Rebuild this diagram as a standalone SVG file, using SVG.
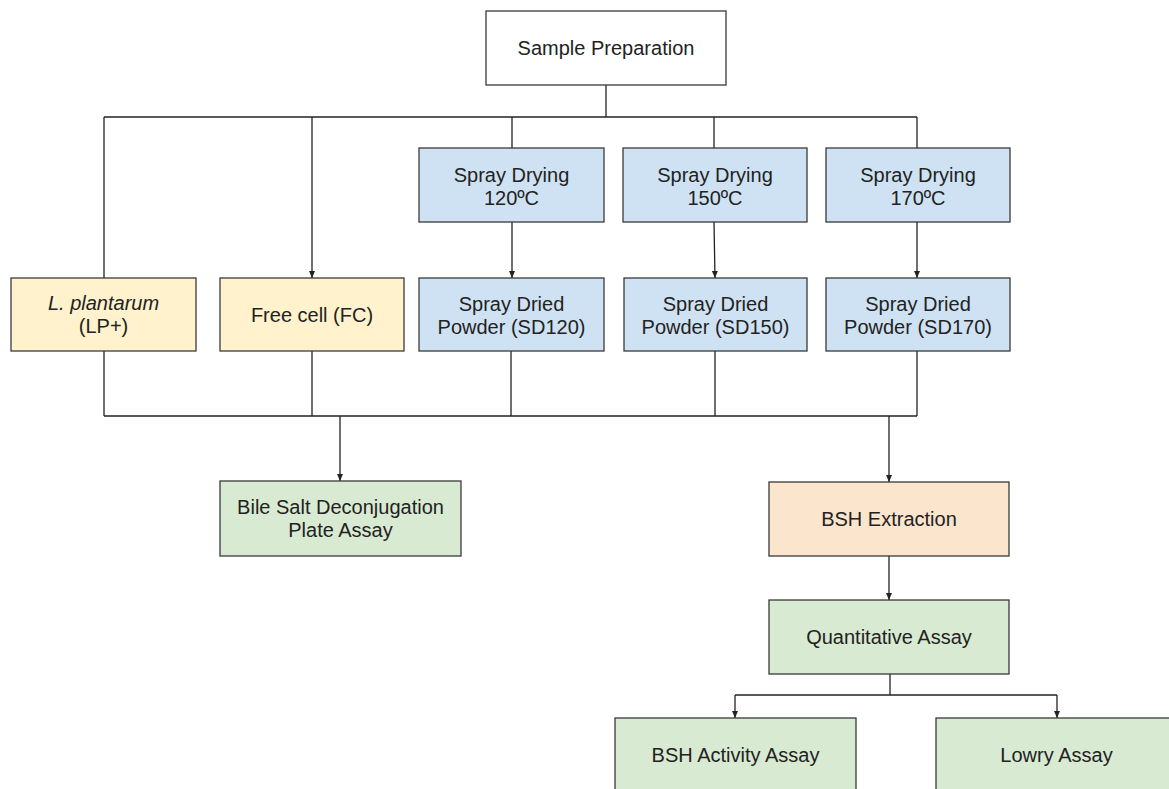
<svg xmlns="http://www.w3.org/2000/svg" width="1169" height="789" viewBox="0 0 1169 789">
<style>
  .box { stroke: #3a3a3a; stroke-width: 1.3; }
  .white { fill: #ffffff; }
  .yellow { fill: #fff2cc; }
  .blue { fill: #cfe2f3; }
  .green { fill: #d9ead3; }
  .orange { fill: #fce5cd; }
  text { font-family: "Liberation Sans", Arial, sans-serif; font-size: 20px; fill: #222222; text-anchor: middle; }
  .it { font-style: italic; }
  .conn line, .conn path { stroke: #222222; stroke-width: 1.3; fill: none; }
</style>
<defs>
  <marker id="arr" markerWidth="8" markerHeight="8" refX="7" refY="4" orient="auto" markerUnits="userSpaceOnUse">
    <path d="M0,1 L7,4 L0,7 z" fill="#222222"/>
  </marker>
</defs>
<rect width="1169" height="789" fill="#ffffff"/>

<g class="conn" id="connectors">
  <line x1="606" y1="85" x2="606" y2="117"/>
  <line x1="104" y1="117" x2="917" y2="117"/>
  <line x1="104" y1="117" x2="104" y2="278"/>
  <line x1="312" y1="117" x2="312" y2="278" marker-end="url(#arr)"/>
  <line x1="512" y1="117" x2="512" y2="148"/>
  <line x1="714" y1="117" x2="714" y2="148"/>
  <line x1="917" y1="117" x2="917" y2="148"/>
  <line x1="512" y1="222" x2="512" y2="278" marker-end="url(#arr)"/>
  <line x1="714" y1="222" x2="715" y2="278" marker-end="url(#arr)"/>
  <line x1="917" y1="222" x2="917" y2="278" marker-end="url(#arr)"/>
  <line x1="104" y1="351" x2="104" y2="416"/>
  <line x1="312" y1="351" x2="312" y2="416"/>
  <line x1="511" y1="351" x2="511" y2="416"/>
  <line x1="715" y1="351" x2="715" y2="416"/>
  <line x1="917" y1="351" x2="917" y2="416"/>
  <line x1="104" y1="416" x2="917" y2="416"/>
  <line x1="340" y1="416" x2="340" y2="481" marker-end="url(#arr)"/>
  <line x1="889" y1="416" x2="889" y2="482" marker-end="url(#arr)"/>
  <line x1="889" y1="556" x2="889" y2="600" marker-end="url(#arr)"/>
  <line x1="890" y1="674" x2="890" y2="695"/>
  <line x1="735" y1="695" x2="1057" y2="695"/>
  <line x1="735" y1="695" x2="735" y2="718" marker-end="url(#arr)"/>
  <line x1="1057" y1="695" x2="1057" y2="718" marker-end="url(#arr)"/>
</g>

<g id="sample-prep">
  <rect class="box white" x="486" y="11" width="240" height="74"/>
  <text x="606" y="55">Sample Preparation</text>
</g>
<g id="sd120">
  <rect class="box blue" x="419" y="148" width="185" height="74"/>
  <text x="511.5" y="181.5">Spray Drying</text>
  <text x="511.5" y="204.5">120ºC</text>
</g>
<g id="sd150">
  <rect class="box blue" x="623" y="148" width="184" height="74"/>
  <text x="715" y="181.5">Spray Drying</text>
  <text x="715" y="204.5">150ºC</text>
</g>
<g id="sd170">
  <rect class="box blue" x="826" y="148" width="184" height="74"/>
  <text x="918" y="181.5">Spray Drying</text>
  <text x="918" y="204.5">170ºC</text>
</g>
<g id="lp">
  <rect class="box yellow" x="11" y="278" width="185" height="73"/>
  <text class="it" x="103.5" y="310">L. plantarum</text>
  <text x="103.5" y="333">(LP+)</text>
</g>
<g id="fc">
  <rect class="box yellow" x="220" y="278" width="184" height="73"/>
  <text x="312" y="322">Free cell (FC)</text>
</g>
<g id="powder120">
  <rect class="box blue" x="419" y="278" width="185" height="73"/>
  <text x="511.5" y="310.5">Spray Dried</text>
  <text x="511.5" y="333.5">Powder (SD120)</text>
</g>
<g id="powder150">
  <rect class="box blue" x="624" y="278" width="183" height="73"/>
  <text x="715.5" y="310.5">Spray Dried</text>
  <text x="715.5" y="333.5">Powder (SD150)</text>
</g>
<g id="powder170">
  <rect class="box blue" x="826" y="278" width="184" height="73"/>
  <text x="918" y="310.5">Spray Dried</text>
  <text x="918" y="333.5">Powder (SD170)</text>
</g>
<g id="bile-salt">
  <rect class="box green" x="220" y="481" width="241" height="75"/>
  <text x="340.5" y="514">Bile Salt Deconjugation</text>
  <text x="340.5" y="537">Plate Assay</text>
</g>
<g id="bsh-extraction">
  <rect class="box orange" x="769" y="482" width="240" height="74"/>
  <text x="889" y="526">BSH Extraction</text>
</g>
<g id="quantitative">
  <rect class="box green" x="769" y="600" width="240" height="74"/>
  <text x="889" y="644">Quantitative Assay</text>
</g>
<g id="bsh-activity">
  <rect class="box green" x="615" y="718" width="241" height="74"/>
  <text x="735.5" y="762">BSH Activity Assay</text>
</g>
<g id="lowry">
  <rect class="box green" x="936" y="718" width="241" height="74"/>
  <text x="1056.5" y="762">Lowry Assay</text>
</g>
</svg>
